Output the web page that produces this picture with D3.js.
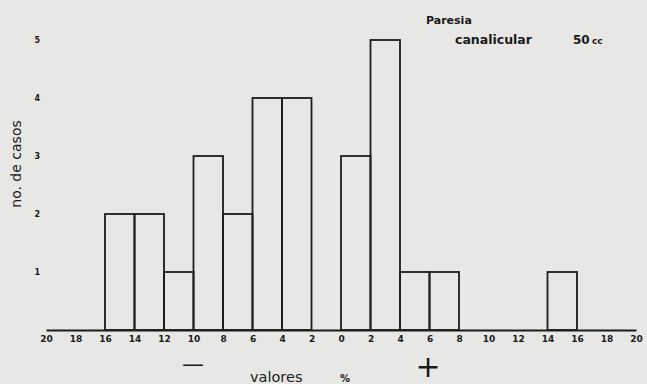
<!DOCTYPE html>
<html>
<head>
<meta charset="utf-8">
<script src="https://cdn.jsdelivr.net/npm/d3@7"></script>
<style>
  body { margin: 0; background: #e7e7e5; }
  svg { display: block; }
  text { font-family: "DejaVu Sans", Arial, sans-serif; fill: #1a1a1a; }
</style>
</head>
<body>
<div id="chart"></div>
<script>
// histogram bins (signed %, width 2) and number of cases
var binStart = [-16, -14, -12, -10, -8, -6, -4, 0, 2, 4, 6, 14];
var binCount = [2, 2, 1, 3, 2, 4, 4, 3, 5, 1, 1, 1];
var xTicks = [-20, -18, -16, -14, -12, -10, -8, -6, -4, -2, 0, 2, 4, 6, 8, 10, 12, 14, 16, 18, 20];
var yTicks = [1, 2, 3, 4, 5];

var width = 647, height = 384;

var svg = d3.select("#chart").append("svg")
    .attr("width", width)
    .attr("height", height);

var x = d3.scaleLinear().domain([-20, 20]).range([46, 636]);
var y = d3.scaleLinear().domain([0, 5]).range([330, 40]);

var bins = binStart.map(function (s, i) { return { x0: s, x1: s + 2, n: binCount[i] }; });

// bars as open outlines
svg.append("g")
    .selectAll("rect")
    .data(bins)
    .enter()
    .append("rect")
    .attr("x", function (d) { return x(d.x0); })
    .attr("y", function (d) { return y(d.n); })
    .attr("width", function (d) { return x(d.x1) - x(d.x0); })
    .attr("height", function (d) { return y(0) - y(d.n); })
    .style("fill", "none")
    .style("stroke", "#1c1c1c")
    .style("stroke-width", 1.8);

// x axis, labels without sign
var xAxis = svg.append("g")
    .attr("transform", "translate(0," + y(0) + ")")
    .call(d3.axisBottom(x).tickValues(xTicks).tickSize(0).tickPadding(6)
        .tickFormat(function (d) { return Math.abs(d); }));
xAxis.select(".domain").style("stroke", "#1c1c1c").style("stroke-width", 1.8);
xAxis.selectAll("text")
    .style("font-size", "9px")
    .style("font-weight", "bold")
    .style("font-family", "'DejaVu Sans', Arial, sans-serif");

// y axis, labels only
var yAxis = svg.append("g")
    .attr("transform", "translate(46,0)")
    .call(d3.axisLeft(y).tickValues(yTicks).tickSize(0).tickPadding(6).tickFormat(d3.format("d")));
yAxis.select(".domain").remove();
yAxis.selectAll("text")
    .style("font-size", "8px")
    .style("font-weight", "bold")
    .style("font-family", "'DejaVu Sans', Arial, sans-serif");

// y title
svg.append("text")
    .attr("transform", "translate(21,164) rotate(-90)")
    .attr("text-anchor", "middle")
    .style("font-size", "14px")
    .text("no. de casos");

// sign marks and x title
svg.append("text")
    .attr("x", 193).attr("y", 371)
    .attr("text-anchor", "middle")
    .style("font-size", "22px")
    .text("—");
svg.append("text")
    .attr("x", 428).attr("y", 377)
    .attr("text-anchor", "middle")
    .style("font-size", "30px")
    .text("+");
svg.append("text")
    .attr("x", 250).attr("y", 382)
    .style("font-size", "14.5px")
    .text("valores");
svg.append("text")
    .attr("x", 340).attr("y", 382)
    .style("font-size", "10px")
    .style("font-weight", "bold")
    .text("%");

// title
svg.append("text")
    .attr("x", 426).attr("y", 24)
    .style("font-size", "11px")
    .style("font-weight", "bold")
    .text("Paresia");
svg.append("text")
    .attr("x", 455).attr("y", 44)
    .style("font-size", "12.5px")
    .style("font-weight", "bold")
    .text("canalicular");
svg.append("text")
    .attr("x", 573).attr("y", 44)
    .style("font-size", "12px")
    .style("font-weight", "bold")
    .text("50");
svg.append("text")
    .attr("x", 592).attr("y", 44)
    .style("font-size", "9px")
    .style("font-weight", "bold")
    .text("cc");
</script>
</body>
</html>
